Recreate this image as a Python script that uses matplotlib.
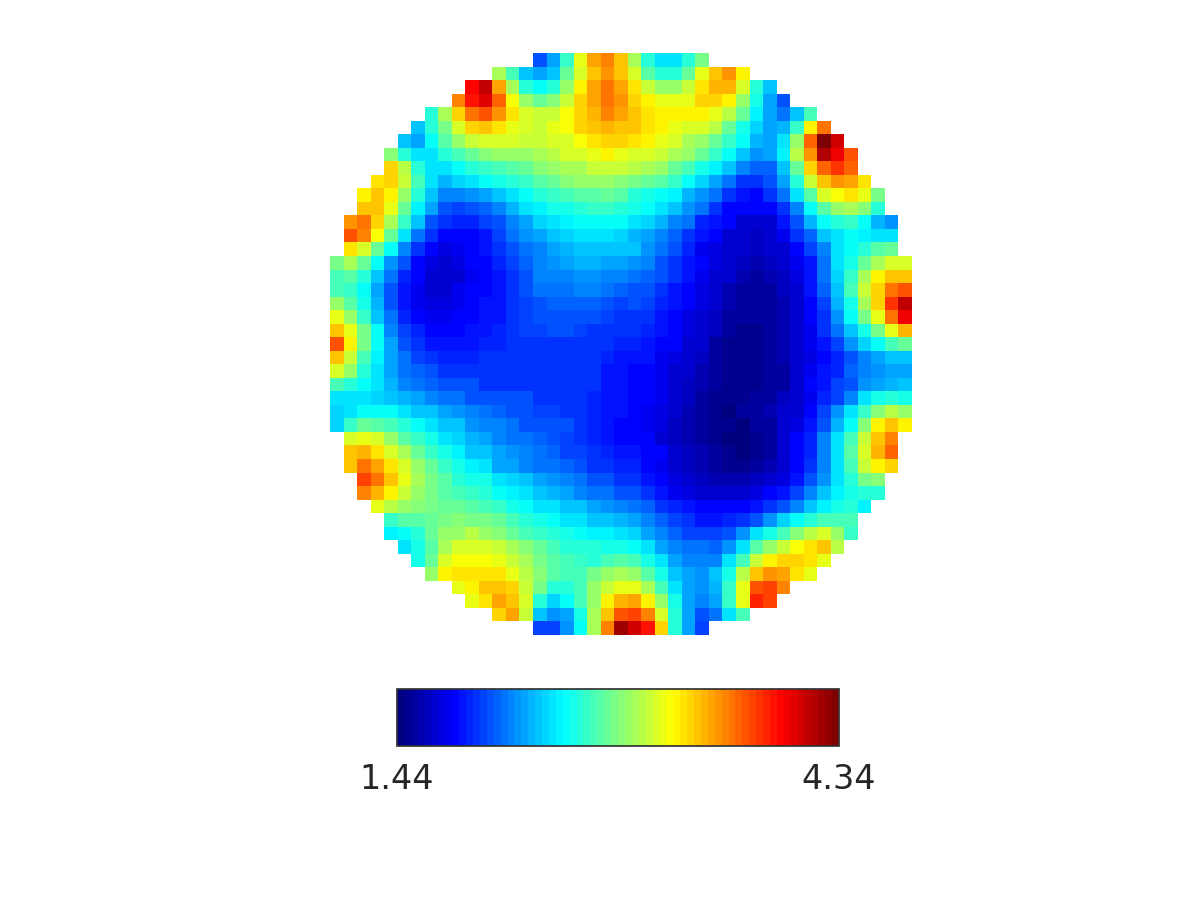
import numpy as np
import matplotlib
matplotlib.use("Agg")
import matplotlib.pyplot as plt
from matplotlib.colors import LinearSegmentedColormap

# colour level of each cell, percent of the colour range, top row first
rows = [
    [20,27,42,62,72,75,70,55,41,33,33,40,49],
    [55,43,30,27,31,47,60,70,74,70,60,46,40,40,48,62,70,74,64],
    [88,94,73,55,40,36,41,52,65,72,77,72,66,57,52,52,57,66,71,71,59,41,30],
    [76,87,91,79,63,52,48,51,58,68,72,77,74,68,64,61,61,62,68,68,64,52,39,27,20],
    [41,55,68,78,80,74,66,60,57,58,63,68,71,75,73,70,66,64,64,64,64,62,56,47,35,27,23,31,43],
    [30,41,49,60,68,69,67,62,60,58,61,63,68,70,71,70,70,67,64,62,60,60,56,48,39,32,27,29,42,64,78],
    [30,28,36,45,52,57,60,60,59,58,58,59,60,63,66,68,68,67,64,62,59,55,53,47,42,36,29,27,34,53,79,100,92],
    [50,41,34,34,40,43,48,50,52,52,52,55,56,59,60,62,64,62,60,59,58,55,52,48,42,36,30,26,27,35,56,74,95,89,80],
    [68,56,40,34,34,36,40,42,44,46,48,50,52,54,55,57,58,58,56,55,52,48,43,39,35,30,25,21,21,31,48,68,79,84,79],
    [66,68,58,43,33,29,32,34,36,38,40,42,45,48,50,52,53,53,50,49,47,46,42,36,32,28,23,17,16,19,27,40,58,69,74,73,66],
    [65,70,65,53,40,31,25,24,26,27,31,34,36,40,42,43,45,46,47,45,41,38,37,35,29,26,22,17,14,12,16,22,33,46,59,63,66,62,49],
    [70,70,62,48,35,27,20,18,20,21,25,29,33,35,38,39,41,42,42,41,38,36,34,30,26,22,17,12,11,11,11,16,25,36,45,52,55,50,41],
    [74,77,68,55,42,30,20,16,15,15,18,20,25,28,32,33,35,37,37,37,37,33,32,29,24,22,15,14,11,8,8,8,13,19,29,36,40,42,36,29,26],
    [80,75,63,47,33,22,16,11,11,12,14,18,22,26,27,30,32,33,33,33,32,29,27,25,21,17,13,11,8,7,6,7,10,16,21,30,34,36,35,33,33],
    [67,60,47,36,25,17,12,9,10,11,13,17,20,23,25,27,29,31,31,31,30,30,26,23,19,15,10,9,8,7,6,7,8,12,18,25,33,37,41,45,48],
    [49,55,47,37,26,19,12,9,8,9,11,12,15,18,21,25,26,27,29,29,27,28,26,24,20,17,14,11,9,7,6,5,6,7,10,14,23,33,39,48,55,60,60],
    [44,46,40,31,22,15,11,8,7,7,10,12,14,17,20,24,24,25,26,26,25,24,22,21,19,16,13,10,8,7,5,4,5,6,9,14,23,32,42,55,64,70,69],
    [44,42,36,27,19,13,10,8,8,10,11,11,14,16,19,22,22,23,24,24,23,21,20,20,16,14,11,9,7,5,3,3,4,6,8,13,21,30,43,57,68,77,80],
    [52,45,38,29,20,14,10,9,9,10,11,13,14,16,18,20,21,21,21,21,19,18,20,18,15,13,11,9,7,5,3,3,4,5,8,11,18,29,38,55,68,83,94],
    [61,52,42,31,22,15,11,10,10,11,12,13,14,16,18,19,19,19,19,19,18,17,17,17,13,12,9,8,6,4,3,3,4,5,7,11,16,26,36,49,62,77,89],
    [70,61,49,36,25,18,15,12,12,12,13,14,15,17,18,18,19,20,18,17,17,16,17,15,13,11,9,8,6,3,2,2,3,5,7,10,16,22,31,39,49,62,71],
    [80,64,49,36,27,20,17,14,14,14,14,15,15,16,16,17,17,17,17,17,16,15,15,14,12,11,8,7,4,2,2,2,3,5,7,10,14,18,26,32,37,43,48],
    [70,58,44,35,27,22,18,16,15,15,15,16,16,16,17,17,17,17,16,16,15,14,14,13,10,9,7,6,4,2,2,2,3,5,7,9,11,15,20,25,27,30,30],
    [60,52,40,33,27,23,21,19,17,16,16,16,16,17,17,17,17,17,16,16,14,13,12,11,10,8,7,5,3,2,2,2,3,4,7,10,13,15,21,24,26,27,27],
    [44,41,36,33,29,25,22,21,20,19,19,17,17,17,17,17,17,16,16,16,14,13,12,11,10,8,6,5,3,2,2,2,3,4,7,11,14,18,20,26,28,29,30],
    [34,34,33,32,30,29,27,25,22,22,20,20,19,19,19,17,17,17,16,15,14,14,12,11,10,8,6,4,2,2,2,3,4,6,8,10,15,18,25,34,38,40,38],
    [32,34,36,36,36,34,31,30,27,26,24,22,21,20,19,18,18,17,16,15,14,14,11,10,9,7,5,3,2,1,3,4,5,7,8,11,18,26,33,42,50,56,53],
    [32,42,47,46,44,40,36,34,31,30,26,25,24,22,20,20,19,19,16,15,13,12,11,10,9,6,5,3,2,2,1,3,4,7,9,13,20,29,37,50,64,70,65],
    [59,61,59,52,46,42,38,34,32,29,27,25,23,22,21,20,18,16,15,14,12,12,11,8,6,5,3,2,1,1,2,3,7,11,15,24,33,44,58,70,76],
    [69,71,66,60,54,47,42,39,35,31,30,28,26,25,23,21,18,18,17,15,13,14,12,11,8,6,5,3,2,1,2,4,7,11,15,25,33,46,60,71,79],
    [70,78,73,66,60,53,47,42,38,35,33,28,27,25,23,22,21,19,17,16,15,15,12,10,8,6,5,3,2,2,3,5,8,11,16,25,33,44,57,64,68],
    [82,78,70,62,55,49,45,41,39,38,34,32,30,28,26,24,22,20,19,17,17,14,11,9,8,6,5,5,5,6,7,9,14,19,26,33,41,49,50],
    [75,71,64,58,53,49,46,44,42,41,37,35,33,31,29,27,25,23,22,20,19,17,14,10,9,8,7,7,8,9,12,14,18,24,30,35,39,41,41],
    [62,56,52,50,49,48,47,45,43,42,38,36,34,33,31,30,27,26,25,23,21,17,15,13,12,11,11,12,14,17,20,25,30,35,38,40,35],
    [42,45,45,47,49,51,49,49,47,44,40,38,36,34,33,31,30,29,27,24,21,18,16,14,14,15,17,20,26,32,36,41,44,44,43],
    [35,37,41,47,52,53,56,53,51,47,43,42,40,38,36,35,35,33,32,28,24,21,18,18,18,20,26,33,38,44,51,56,59,52,42],
    [33,39,46,55,59,59,59,57,54,50,47,43,41,40,40,39,39,37,34,28,24,22,22,21,26,34,45,52,58,63,66,69,56],
    [39,48,59,63,63,63,62,58,55,49,46,43,42,41,43,45,43,39,34,28,25,24,25,33,44,58,65,68,68,67,62],
    [52,64,66,67,67,67,62,56,50,45,43,43,49,53,55,53,46,38,31,27,26,30,38,56,70,74,73,67,61],
    [62,64,69,70,68,58,49,41,41,44,52,58,61,62,55,44,34,28,26,29,42,62,81,82,76],
    [62,67,72,70,60,41,32,36,44,53,64,71,72,64,52,38,27,24,27,42,62,85,82],
    [68,72,57,30,26,28,39,54,70,80,82,75,60,40,27,20,23,33,43],
    [18,18,26,37,55,75,96,92,86,68,41,27,18],
]
range_labels = ["1.44", "4.34"]

# levels above were read against matplotlib's jet, the picture uses the evenly spaced one
read_anchors = [0, 11, 36, 64, 89, 100]
even_anchors = [0, 12.5, 37.5, 62.5, 87.5, 100]

grid = np.full((len(rows), len(rows)), np.nan)
for i, row in enumerate(rows):
    start = (len(rows) - len(row)) // 2
    grid[i, start:start + len(row)] = np.interp(row, read_anchors, even_anchors)

even_jet = LinearSegmentedColormap.from_list("even_jet", [
    (0.000, (0, 0, 0.5)),
    (0.125, (0, 0, 1)),
    (0.375, (0, 1, 1)),
    (0.625, (1, 1, 0)),
    (0.875, (1, 0, 0)),
    (1.000, (0.5, 0, 0)),
], N=64)

fig = plt.figure(figsize=(12, 9), dpi=100)
ax = fig.add_axes([330 / 1200, 1 - 635 / 900, 582 / 1200, 582 / 900])
im = ax.imshow(grid, cmap=even_jet, vmin=0, vmax=100, interpolation="nearest", aspect="equal")
ax.axis("off")

cax = fig.add_axes([397 / 1200, 1 - 746 / 900, 442 / 1200, 57 / 900])
cbar = fig.colorbar(im, cax=cax, orientation="horizontal", ticks=[0, 100])
cbar.ax.set_xticklabels(range_labels)
cbar.ax.tick_params(length=0, labelsize=24, labelcolor="#262626", pad=12)
cbar.outline.set_edgecolor("#333333")
cbar.outline.set_linewidth(1.25)

plt.savefig("out.png", dpi=100)
plt.close()
